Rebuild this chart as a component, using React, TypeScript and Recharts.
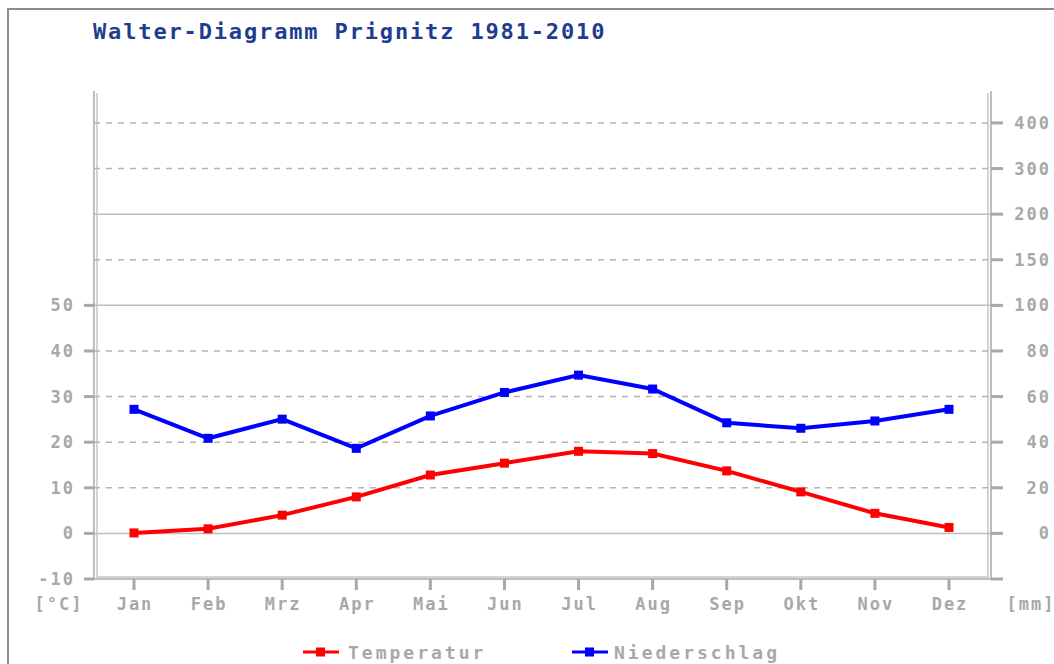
import { LineChart, Line, XAxis, YAxis, ReferenceLine, Legend, Customized } from "recharts";

const months = ["Jan", "Feb", "Mrz", "Apr", "Mai", "Jun", "Jul", "Aug", "Sep", "Okt", "Nov", "Dez"];
const temperatur = [0.1, 1.0, 4.0, 8.0, 12.8, 15.4, 18.0, 17.5, 13.7, 9.1, 4.4, 1.3];
const niederschlag = [54.4, 41.7, 50.1, 37.3, 51.5, 61.8, 69.4, 63.3, 48.5, 46.1, 49.3, 54.4];
const tempTicks = [-10, 0, 10, 20, 30, 40, 50];
const mmTicks = [0, 20, 40, 60, 80, 100, 150, 200, 300, 400];
const solidMm = [0, 100, 200];
const dashedMm = [20, 40, 60, 80, 150, 300, 400];
const legendOrder = ["Temperatur", "Niederschlag"];

// Walter scale: 10 °C = 20 mm up to 100 mm, compressed above
function mmToScale(mm: number) {
  if (mm <= 100) return mm / 2;
  if (mm <= 200) return 50 + (mm - 100) / 5;
  return 70 + (mm - 200) / 10;
}

const rows = months.map((m, i) => ({
  month: m,
  temp: temperatur[i],
  rain: mmToScale(niederschlag[i]),
}));

const W = 1054;
const H = 664;
const TOP = 91;
const BOTTOM = 579;
const LEFT = 94;
const RIGHT = 991;
const DOMAIN: [number, number] = [-10, 97];

const GRAY = "#a8a8a8";
const FONT = "'DejaVu Sans Mono', monospace";
const tickText = { fill: GRAY, fontFamily: FONT, fontWeight: 700, fontSize: 17, letterSpacing: 2 };

const rightTickValues = [-10, ...mmTicks.map(mmToScale)];
const rightLabel = (v: number) => {
  const i = mmTicks.findIndex((t) => Math.abs(mmToScale(t) - v) < 1e-6);
  return i === -1 ? "" : String(mmTicks[i]);
};

const LeftTick = ({ x, y, payload }: any) => (
  <text x={x + 1} y={y} textAnchor="end" dominantBaseline="central" {...tickText}>
    {payload.value}
  </text>
);

const RightTick = ({ x, y, payload }: any) => (
  <text x={x + 38} y={y} textAnchor="end" dominantBaseline="central" {...tickText}>
    {rightLabel(payload.value)}
  </text>
);

const MonthTick = ({ x, y, payload }: any) => (
  <text x={x + 1} y={y + 14} textAnchor="middle" dominantBaseline="central" {...tickText}>
    {payload.value}
  </text>
);

const squareDot = (color: string) => (p: any) => (
  <rect key={`d-${color}-${p.index}`} x={p.cx - 4.5} y={p.cy - 4.5} width={9} height={9} fill={color} />
);

// inner frame line and unit labels
const Frame = () => (
  <g>
    <path
      d={`M${LEFT + 3} ${TOP + 2} V${BOTTOM - 2} H${RIGHT - 3} V${TOP + 2}`}
      fill="none"
      stroke="#c6c6c6"
      strokeWidth={1.5}
    />
    <text x={59} y={604} textAnchor="middle" dominantBaseline="central" {...tickText}>[°C]</text>
    <text x={1031} y={604} textAnchor="middle" dominantBaseline="central" {...tickText}>[mm]</text>
  </g>
);

const legendX = [303, 572];

const LegendContent = ({ payload }: any) => {
  const items = [...(payload || [])].sort(
    (a: any, b: any) => legendOrder.indexOf(a.value) - legendOrder.indexOf(b.value)
  );
  return (
    <div style={{ position: "relative", width: W, height: 24 }}>
      {items.map((item: any, i: number) => (
        <div
          key={item.value}
          style={{ position: "absolute", left: legendX[i], top: 0, height: 24, display: "flex", alignItems: "center" }}
        >
          <svg width={36} height={12} style={{ display: "block" }}>
            <line x1={0} y1={6} x2={36} y2={6} stroke={item.color} strokeWidth={3} />
            <rect x={13} y={1.5} width={9} height={9} fill={item.color} />
          </svg>
          <span
            style={{
              marginLeft: i === 0 ? 9 : 6,
              color: GRAY,
              fontFamily: FONT,
              fontWeight: 700,
              fontSize: 18,
              letterSpacing: 3,
            }}
          >
            {item.value}
          </span>
        </div>
      ))}
    </div>
  );
};

export default function App() {
  return (
    <div style={{ position: "fixed", left: 0, top: 0, width: W, height: H, overflow: "hidden", background: "#fff" }}>
      <div
        style={{
          position: "absolute",
          left: 7,
          top: 8,
          width: 1200,
          height: 800,
          border: "2px solid #8c8c8c",
          boxSizing: "border-box",
        }}
      />
      <div
        style={{
          position: "absolute",
          left: 93,
          top: 19,
          color: "#1f3d8f",
          fontFamily: FONT,
          fontWeight: 700,
          fontSize: 22,
          letterSpacing: 1.85,
          whiteSpace: "nowrap",
        }}
      >
        Walter-Diagramm Prignitz 1981-2010
      </div>
      <div style={{ position: "absolute", left: 0, top: 0 }}>
        <LineChart width={W} height={H} data={rows} margin={{ top: TOP, right: 0, bottom: 31, left: 0 }}>
          <Customized component={<Frame />} />
          {solidMm.map((mm) => (
            <ReferenceLine key={`s${mm}`} yAxisId="t" y={mmToScale(mm)} stroke="#bdbdbd" strokeWidth={1.5} />
          ))}
          {dashedMm.map((mm) => (
            <ReferenceLine
              key={`d${mm}`}
              yAxisId="t"
              y={mmToScale(mm)}
              stroke="#b4b4b4"
              strokeWidth={1.5}
              strokeDasharray="6 6"
            />
          ))}
          <XAxis
            dataKey="month"
            height={30}
            padding={{ left: 40, right: 42 }}
            interval={0}
            tickSize={11}
            tickMargin={0}
            axisLine={{ stroke: GRAY, strokeWidth: 1.5 }}
            tickLine={{ stroke: GRAY, strokeWidth: 3 }}
            tick={<MonthTick />}
          />
          <YAxis
            yAxisId="t"
            type="number"
            domain={DOMAIN}
            allowDataOverflow
            ticks={tempTicks}
            interval={0}
            width={LEFT}
            tickSize={10}
            tickMargin={10}
            axisLine={{ stroke: GRAY, strokeWidth: 1.5 }}
            tickLine={{ stroke: GRAY, strokeWidth: 3 }}
            tick={<LeftTick />}
          />
          <YAxis
            yAxisId="mm"
            orientation="right"
            type="number"
            domain={DOMAIN}
            allowDataOverflow
            ticks={rightTickValues}
            interval={0}
            width={W - RIGHT}
            tickSize={12}
            tickMargin={10}
            axisLine={{ stroke: GRAY, strokeWidth: 1.5 }}
            tickLine={{ stroke: GRAY, strokeWidth: 3 }}
            tick={<RightTick />}
          />
          <Line
            yAxisId="t"
            dataKey="temp"
            name="Temperatur"
            stroke="#ff0000"
            strokeWidth={4}
            dot={squareDot("#ff0000")}
            activeDot={false}
            isAnimationActive={false}
          />
          <Line
            yAxisId="mm"
            dataKey="rain"
            name="Niederschlag"
            stroke="#0000ff"
            strokeWidth={4}
            dot={squareDot("#0000ff")}
            activeDot={false}
            isAnimationActive={false}
          />
          <Legend
            verticalAlign="bottom"
            content={<LegendContent />}
            wrapperStyle={{ left: 0, top: 640, bottom: "auto", width: W, height: 24 }}
          />
        </LineChart>
      </div>
    </div>
  );
}
